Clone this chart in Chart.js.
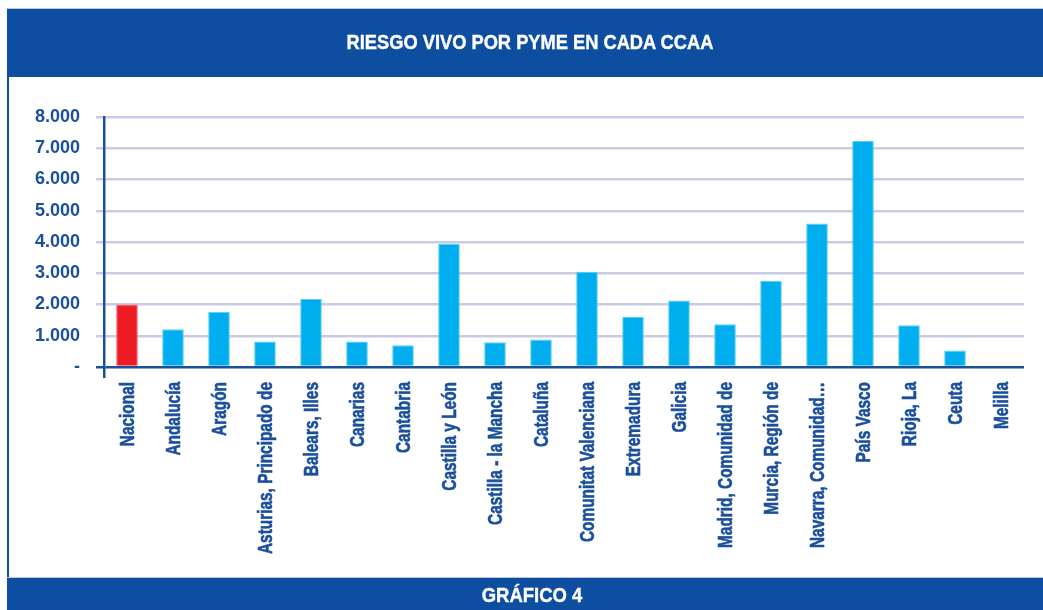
<!DOCTYPE html>
<html>
<head>
<meta charset="utf-8">
<script src="https://cdn.jsdelivr.net/npm/chart.js@4.4.1/dist/chart.umd.min.js"></script>
<style>
  html, body { margin: 0; padding: 0; background: #ffffff; }
  body { width: 1043px; height: 610px; position: relative; overflow: hidden; }
  .band { position: absolute; left: 7px; width: 1036px; background: #0D4EA1; }
  #header { top: 8px; height: 68px; border-top: 1px solid #B9C7DF; }
  #footer { top: 577px; height: 33px; border-top: 1px solid #B9C7DF; }
  #leftline { position: absolute; left: 7px; top: 76px; width: 2px; height: 502px; background: #0D4EA1; }
  .txt { position: absolute; color: #ffffff; font-family: "Liberation Sans", Arial, sans-serif;
         font-weight: bold; font-size: 21px; white-space: nowrap; line-height: 1;
         -webkit-text-stroke: 0.4px #ffffff;
         transform: translateX(-50%) scaleX(0.87); transform-origin: 50% 50%; }
  #title { left: 530px; top: 31px; }
  #foot { left: 532px; top: 584px; transform: translateX(-50%) scaleX(0.88); }
  #c { position: absolute; left: 0; top: 0; }
</style>
</head>
<body>
<div id="header" class="band"></div>
<div id="leftline"></div>
<div id="footer" class="band"></div>
<canvas id="c" width="1043" height="610"></canvas>
<div id="title" class="txt">RIESGO VIVO POR PYME EN CADA CCAA</div>
<div id="foot" class="txt">GRÁFICO 4</div>
<script>
const categories = [
  "Nacional", "Andalucía", "Aragón", "Asturias, Principado de", "Balears, Illes",
  "Canarias", "Cantabria", "Castilla y León", "Castilla - la Mancha", "Cataluña",
  "Comunitat Valenciana", "Extremadura", "Galicia", "Madrid, Comunidad de",
  "Murcia, Región de", "Navarra, Comunidad…", "País Vasco", "Rioja, La", "Ceuta", "Melilla"
];
const riesgoVivo = [
  2000, 1210, 1770, 820, 2180,
  820, 700, 3945, 790, 880,
  3050, 1600, 2130, 1370,
  2760, 4590, 7230, 1340, 530, 0
];
const yTickLabels = ["-", "1.000", "2.000", "3.000", "4.000", "5.000", "6.000", "7.000", "8.000"];

const BLUE = "#1A4F9C";
const GRID = "#CACCE6";
const CYAN = "#00AEEF";
const RED = "#ED1C24";

// Draws the category labels of the x scale, rotated and horizontally condensed
const condensedXLabels = {
  id: "condensedXLabels",
  afterDraw(chart) {
    const xs = chart.scales.x;
    const ctx = chart.ctx;
    const labels = chart.data.labels;
    ctx.save();
    ctx.fillStyle = BLUE;
    ctx.strokeStyle = BLUE;
    ctx.lineWidth = 0.6;
    ctx.lineJoin = "round";
    ctx.font = "bold 20px 'Liberation Sans', Arial, sans-serif";
    ctx.textAlign = "right";
    ctx.textBaseline = "middle";
    labels.forEach((lab, i) => {
      const x = xs.getPixelForTick(i);
      ctx.save();
      ctx.translate(x + 1, xs.top + 15);
      ctx.rotate(-Math.PI / 2);
      ctx.scale(0.77, 1);
      ctx.fillText(lab, 0, 0);
      ctx.strokeText(lab, 0, 0);
      ctx.restore();
    });
    ctx.restore();
  }
};

new Chart(document.getElementById("c"), {
  type: "bar",
  data: {
    labels: categories,
    datasets: [{
      data: riesgoVivo,
      backgroundColor: categories.map((c, i) => i === 0 ? RED : CYAN),
      borderColor: categories.map((c, i) => i === 0 ? "#F4666B" : "#5CCCF5"),
      borderWidth: 1,
      categoryPercentage: 1.0,
      barPercentage: 0.47
    }]
  },
  plugins: [condensedXLabels],
  options: {
    responsive: false,
    animation: false,
    layout: { padding: { top: 117, right: 19, left: 0, bottom: 0 } },
    plugins: { legend: { display: false }, tooltip: { enabled: false }, title: { display: false } },
    scales: {
      x: {
        border: { display: false },
        grid: {
          display: true,
          drawOnChartArea: false,
          drawTicks: true,
          tickLength: 11,
          lineWidth: 2.5,
          color: (ctx) => ctx.index === 0 ? BLUE : "rgba(0,0,0,0)"
        },
        ticks: { display: false, autoSkip: false },
        afterFit: (scale) => { scale.height = 243; }
      },
      y: {
        min: 0,
        max: 8000,
        border: { display: true, color: BLUE, width: 2.5 },
        grid: {
          lineWidth: 2.5,
          tickLength: 8,
          color: (ctx) => (ctx.tick && ctx.tick.value === 0) ? BLUE : GRID
        },
        ticks: {
          stepSize: 1000,
          padding: 16,
          color: BLUE,
          font: { family: "'Liberation Sans', Arial, sans-serif", size: 18, weight: "bold" },
          callback: (v, i) => yTickLabels[i]
        },
        afterFit: (scale) => { scale.width = 104; }
      }
    }
  }
});
</script>
</body>
</html>
